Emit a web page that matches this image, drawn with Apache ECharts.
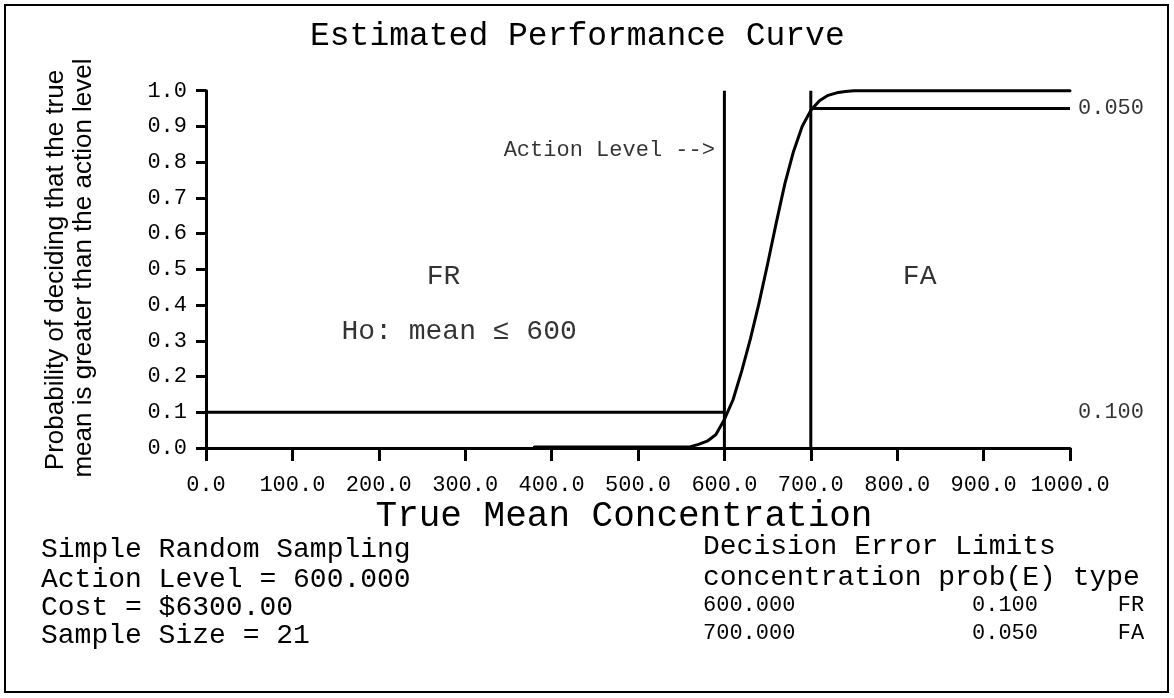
<!DOCTYPE html>
<html>
<head>
<meta charset="utf-8">
<script src="https://cdn.jsdelivr.net/npm/echarts@6/dist/echarts.min.js"></script>
<style>
html,body{margin:0;padding:0;background:#fff;}
#chart{width:1174px;height:698px;}
</style>
</head>
<body>
<div id="chart"></div>
<script>
// ---- data ----
const concentration = [380, 560, 570, 580, 590, 600, 610, 620, 630, 640, 650, 660, 670, 680, 690, 700, 710, 720, 730, 740, 750, 1000];
const probability   = [0.003, 0.003, 0.010, 0.019, 0.037, 0.080, 0.135, 0.215, 0.305, 0.405, 0.515, 0.630, 0.740, 0.830, 0.900, 0.945, 0.972, 0.987, 0.994, 0.998, 1.000, 1.000];
const xTicks = [0, 100, 200, 300, 400, 500, 600, 700, 800, 900, 1000];
const yTicks = [0, 0.1, 0.2, 0.3, 0.4, 0.5, 0.6, 0.7, 0.8, 0.9, 1.0];
const actionLevel = 600;
const grayLimit = 700;
const frProb = 0.100;
const faProb = 0.050;
const xMax = 1000;
const cost = 6300.00;
const sampleSize = 21;
const titleText = 'Estimated Performance Curve';
const xName = 'True Mean Concentration';
const yName1 = 'Probability of deciding that the true';
const yName2 = 'mean is greater than the action level';

const MONO = 'Liberation Mono, DejaVu Sans Mono, monospace';
const SANS = 'Liberation Sans, Arial, sans-serif';

const chart = echarts.init(document.getElementById('chart'), null, {renderer: 'canvas'});

const blackLine = {color: '#000', width: 3};
function seg(points) {
  return {type: 'line', data: points, symbol: 'none', clip: false, silent: true,
          lineStyle: {color: '#000', width: 3}, z: 3};
}

const textPts = [
  {value: [275, 0.48], text: 'FR', size: 28, align: 'center'},
  {value: [826, 0.48], text: 'FA', size: 28, align: 'center'},
  {value: [293, 0.325], text: 'Ho: mean \u2264 ' + actionLevel, size: 28, align: 'center'},
  {value: [589, 0.834], text: 'Action Level -->', size: 22, align: 'right'}
];

const option = {
  animation: false,
  backgroundColor: '#fff',
  grid: {left: 206, right: 104, top: 90.7, bottom: 250, containLabel: false},
  xAxis: {
    type: 'value', min: xTicks[0], max: xTicks[xTicks.length - 1], interval: 100,
    axisLine: {show: true, onZero: false, lineStyle: blackLine},
    axisTick: {show: true, length: 13, lineStyle: {color: '#000', width: 3}},
    axisLabel: {color: '#000', fontFamily: MONO, fontSize: 22, margin: 26,
                formatter: v => v.toFixed(1)},
    splitLine: {show: false}
  },
  yAxis: {
    type: 'value', min: yTicks[0], max: yTicks[yTicks.length - 1], interval: 0.1,
    axisLine: {show: true, onZero: false, lineStyle: blackLine},
    axisTick: {show: true, length: 10, lineStyle: {color: '#000', width: 3}},
    axisLabel: {color: '#000', fontFamily: MONO, fontSize: 22, margin: 19,
                formatter: v => v.toFixed(1)},
    splitLine: {show: false}
  },
  series: [
    {
      type: 'line', name: 'curve', symbol: 'none', clip: false, smooth: false,
      data: concentration.map((c, i) => [c, probability[i]]),
      lineStyle: {color: '#000', width: 3, join: 'round', cap: 'round'}, z: 4
    },
    seg([[0, frProb], [actionLevel, frProb]]),
    seg([[grayLimit, 1 - faProb], [xMax, 1 - faProb]]),
    seg([[actionLevel, 0], [actionLevel, 1]]),
    seg([[grayLimit, 0], [grayLimit, 1]]),
    {
      type: 'scatter', symbolSize: 0, silent: true, clip: false,
      data: textPts.map(t => ({
        value: t.value,
        label: {show: true, position: 'inside', formatter: t.text, align: t.align,
                verticalAlign: 'middle', color: '#000', fontFamily: MONO, fontSize: t.size}
      }))
    },
    {
      type: 'scatter', symbolSize: 0, silent: true, clip: false,
      data: [
        {value: [xMax, 1 - faProb], name: faProb.toFixed(3)},
        {value: [xMax, frProb], name: frProb.toFixed(3)}
      ],
      label: {show: true, position: 'right', distance: 8, formatter: p => p.name,
              color: '#000', fontFamily: MONO, fontSize: 22}
    }
  ],
  graphic: [
    {type: 'rect', shape: {x: 5, y: 5, width: 1163, height: 687},
     style: {fill: 'none', stroke: '#000', lineWidth: 2}, silent: true},
    {type: 'text', x: 310, y: 36, style: {text: titleText, font: '33px ' + MONO, fill: '#000',
      textAlign: 'left', textVerticalAlign: 'middle'}},
    {type: 'text', x: 624, y: 516, style: {text: xName, font: '36px ' + MONO, fill: '#000',
      textAlign: 'center', textVerticalAlign: 'middle'}},
    {type: 'text', x: 56, y: 270, rotation: Math.PI / 2, style: {text: yName1, font: '26px ' + SANS,
      fill: '#000', textAlign: 'center', textVerticalAlign: 'middle'}},
    {type: 'text', x: 84, y: 268, rotation: Math.PI / 2, style: {text: yName2, font: '26px ' + SANS,
      fill: '#000', textAlign: 'center', textVerticalAlign: 'middle'}},
    // left footer block
    {type: 'text', x: 41, y: 550, style: {text: 'Simple Random Sampling', font: '28px ' + MONO, fill: '#000', textVerticalAlign: 'middle'}},
    {type: 'text', x: 41, y: 580, style: {text: 'Action Level = ' + actionLevel.toFixed(3), font: '28px ' + MONO, fill: '#000', textVerticalAlign: 'middle'}},
    {type: 'text', x: 41, y: 608, style: {text: 'Cost = $' + cost.toFixed(2), font: '28px ' + MONO, fill: '#000', textVerticalAlign: 'middle'}},
    {type: 'text', x: 41, y: 636, style: {text: 'Sample Size = ' + sampleSize, font: '28px ' + MONO, fill: '#000', textVerticalAlign: 'middle'}},
    // right footer block
    {type: 'text', x: 703, y: 547, style: {text: 'Decision Error Limits', font: '28px ' + MONO, fill: '#000', textVerticalAlign: 'middle'}},
    {type: 'text', x: 703, y: 578, style: {text: 'concentration prob(E) type', font: '28px ' + MONO, fill: '#000', textVerticalAlign: 'middle'}},
    {type: 'text', x: 703, y: 605, style: {text: actionLevel.toFixed(3), font: '22px ' + MONO, fill: '#000', textVerticalAlign: 'middle'}},
    {type: 'text', x: 1038, y: 605, style: {text: frProb.toFixed(3), font: '22px ' + MONO, fill: '#000', textAlign: 'right', textVerticalAlign: 'middle'}},
    {type: 'text', x: 1131, y: 605, style: {text: 'FR', font: '22px ' + MONO, fill: '#000', textAlign: 'center', textVerticalAlign: 'middle'}},
    {type: 'text', x: 703, y: 633, style: {text: grayLimit.toFixed(3), font: '22px ' + MONO, fill: '#000', textVerticalAlign: 'middle'}},
    {type: 'text', x: 1038, y: 633, style: {text: faProb.toFixed(3), font: '22px ' + MONO, fill: '#000', textAlign: 'right', textVerticalAlign: 'middle'}},
    {type: 'text', x: 1131, y: 633, style: {text: 'FA', font: '22px ' + MONO, fill: '#000', textAlign: 'center', textVerticalAlign: 'middle'}}
  ]
};
chart.setOption(option);
</script>
</body>
</html>
